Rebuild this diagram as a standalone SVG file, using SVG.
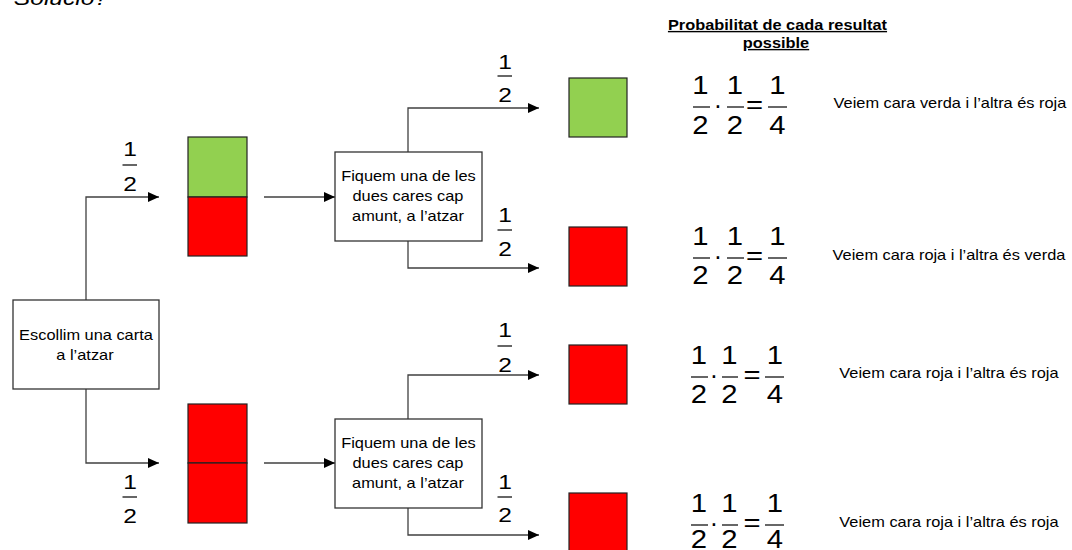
<svg xmlns="http://www.w3.org/2000/svg" width="1072" height="550" viewBox="0 0 1072 550">
<style>
text{font-family:"Liberation Sans",Arial,sans-serif;fill:#000}
.s{transform-box:fill-box;transform-origin:center;transform:scaleX(1.17)}
.b{font-size:14px;text-anchor:middle}
.h{font-size:14px;font-weight:bold;text-anchor:middle;text-decoration:underline}
.f{font-size:21px;text-anchor:middle}
.g{font-size:25px;text-anchor:middle}
.ti{font-size:21px;font-style:italic;text-anchor:middle}
.box{fill:#fff;stroke:#333;stroke-width:1.3}
.c{fill:none;stroke:#404040;stroke-width:1.3}
.bar{stroke:#000;stroke-width:1.2}
.gr{fill:#92D050;stroke:#222;stroke-width:1.2}
.rd{fill:#FF0000;stroke:#222;stroke-width:1.2}
</style>
<defs>
<marker id="ah" markerUnits="userSpaceOnUse" markerWidth="11" markerHeight="10" refX="11" refY="5" orient="auto">
<path d="M0,0 L11,5 L0,10 z" fill="#000"/>
</marker>
</defs>

<text class="ti s" x="61" y="5">Solució?</text>

<g id="heading">
<text class="h s" x="777.5" y="30">Probabilitat de cada resultat</text>
<text class="h s" x="776" y="48">possible</text>
</g>

<g id="connectors">
<path class="c" d="M86,300 V197 H159" marker-end="url(#ah)"/>
<path class="c" d="M86,389 V463 H159" marker-end="url(#ah)"/>
<path class="c" d="M264,197 H335" marker-end="url(#ah)"/>
<path class="c" d="M264,463 H335" marker-end="url(#ah)"/>
<path class="c" d="M408,152 V108 H539" marker-end="url(#ah)"/>
<path class="c" d="M408,241 V268 H539" marker-end="url(#ah)"/>
<path class="c" d="M408,419 V375 H539" marker-end="url(#ah)"/>
<path class="c" d="M408,508 V535 H539" marker-end="url(#ah)"/>
<g id="lab1">
<text class="f s" x="130" y="156">1</text><line class="bar" x1="122.5" y1="165" x2="137" y2="165"/><text class="f s" x="130" y="191">2</text>
</g>
<g id="lab2">
<text class="f s" x="130" y="489">1</text><line class="bar" x1="122.5" y1="497" x2="137" y2="497"/><text class="f s" x="130" y="523">2</text>
</g>
<g id="lab3">
<text class="f s" x="505" y="69">1</text><line class="bar" x1="497.5" y1="76" x2="512" y2="76"/><text class="f s" x="505" y="102">2</text>
</g>
<g id="lab4">
<text class="f s" x="505" y="222">1</text><line class="bar" x1="497.5" y1="230" x2="512" y2="230"/><text class="f s" x="505" y="256">2</text>
</g>
<g id="lab5">
<text class="f s" x="505" y="337">1</text><line class="bar" x1="497.5" y1="346" x2="512" y2="346"/><text class="f s" x="505" y="372">2</text>
</g>
<g id="lab6">
<text class="f s" x="505" y="489">1</text><line class="bar" x1="497.5" y1="497" x2="512" y2="497"/><text class="f s" x="505" y="522">2</text>
</g>
</g>

<g id="start">
<rect class="box" x="13" y="300" width="146" height="89"/>
<text class="b s" x="86" y="340.5">Escollim una carta</text>
<text class="b s" x="85" y="360">a l’atzar</text>
</g>

<g id="card1">
<rect class="gr" x="188" y="137" width="59" height="60"/>
<rect class="rd" x="188" y="197" width="59" height="59"/>
</g>
<g id="card2">
<rect class="rd" x="188" y="404" width="59" height="59"/>
<rect class="rd" x="188" y="463" width="59" height="60"/>
</g>

<g id="flip1">
<rect class="box" x="335" y="152" width="147" height="89"/>
<text class="b s" x="408.5" y="181.5">Fiquem una de les</text>
<text class="b s" x="408" y="201.5">dues cares cap</text>
<text class="b s" x="408" y="221">amunt, a l’atzar</text>
</g>
<g id="flip2">
<rect class="box" x="335" y="419" width="147" height="89"/>
<text class="b s" x="408.5" y="448.5">Fiquem una de les</text>
<text class="b s" x="408" y="468.5">dues cares cap</text>
<text class="b s" x="408" y="488">amunt, a l’atzar</text>
</g>

<g id="out1"><rect class="gr" x="569" y="78" width="58" height="59"/></g>
<g id="out2"><rect class="rd" x="569" y="227" width="58" height="59"/></g>
<g id="out3"><rect class="rd" x="569" y="345" width="58" height="59"/></g>
<g id="out4"><rect class="rd" x="569" y="493" width="58" height="59"/></g>

<g id="prob1">
<text class="g s" x="700.5" y="94">1</text><line class="bar" x1="693" y1="107" x2="710" y2="107"/><text class="g s" x="700.5" y="134">2</text>
<text class="g" x="718" y="114">·</text>
<text class="g s" x="735" y="94">1</text><line class="bar" x1="727" y1="107" x2="744" y2="107"/><text class="g s" x="735" y="134">2</text>
<text class="g s" x="754.5" y="113.5">=</text>
<text class="g s" x="777.5" y="94">1</text><line class="bar" x1="768" y1="107" x2="787" y2="107"/><text class="g s" x="777.5" y="134">4</text>
<text class="b s" x="950" y="108">Veiem cara verda i l’altra és roja</text>
</g>
<g id="prob2">
<text class="g s" x="700.5" y="245">1</text><line class="bar" x1="693" y1="258" x2="710" y2="258"/><text class="g s" x="700.5" y="284">2</text>
<text class="g" x="718" y="265">·</text>
<text class="g s" x="735" y="245">1</text><line class="bar" x1="727" y1="258" x2="744" y2="258"/><text class="g s" x="735" y="284">2</text>
<text class="g s" x="754.5" y="264.5">=</text>
<text class="g s" x="777.5" y="245">1</text><line class="bar" x1="768" y1="258" x2="787" y2="258"/><text class="g s" x="777.5" y="284">4</text>
<text class="b s" x="949" y="260">Veiem cara roja i l’altra és verda</text>
</g>
<g id="prob3">
<text class="g s" x="699" y="364">1</text><line class="bar" x1="691" y1="377" x2="708" y2="377"/><text class="g s" x="699" y="403">2</text>
<text class="g" x="714" y="384">·</text>
<text class="g s" x="729.5" y="364">1</text><line class="bar" x1="722" y1="377" x2="738" y2="377"/><text class="g s" x="729.5" y="403">2</text>
<text class="g s" x="752" y="383.5">=</text>
<text class="g s" x="775" y="364">1</text><line class="bar" x1="765" y1="377" x2="784" y2="377"/><text class="g s" x="775" y="403">4</text>
<text class="b s" x="949" y="378">Veiem cara roja i l’altra és roja</text>
</g>
<g id="prob4">
<text class="g s" x="699" y="512">1</text><line class="bar" x1="691" y1="525" x2="708" y2="525"/><text class="g s" x="699" y="548">2</text>
<text class="g" x="714" y="532">·</text>
<text class="g s" x="729.5" y="512">1</text><line class="bar" x1="722" y1="525" x2="738" y2="525"/><text class="g s" x="729.5" y="548">2</text>
<text class="g s" x="752" y="531.5">=</text>
<text class="g s" x="775" y="512">1</text><line class="bar" x1="765" y1="525" x2="784" y2="525"/><text class="g s" x="775" y="548">4</text>
<text class="b s" x="949" y="527">Veiem cara roja i l’altra és roja</text>
</g>
</svg>
